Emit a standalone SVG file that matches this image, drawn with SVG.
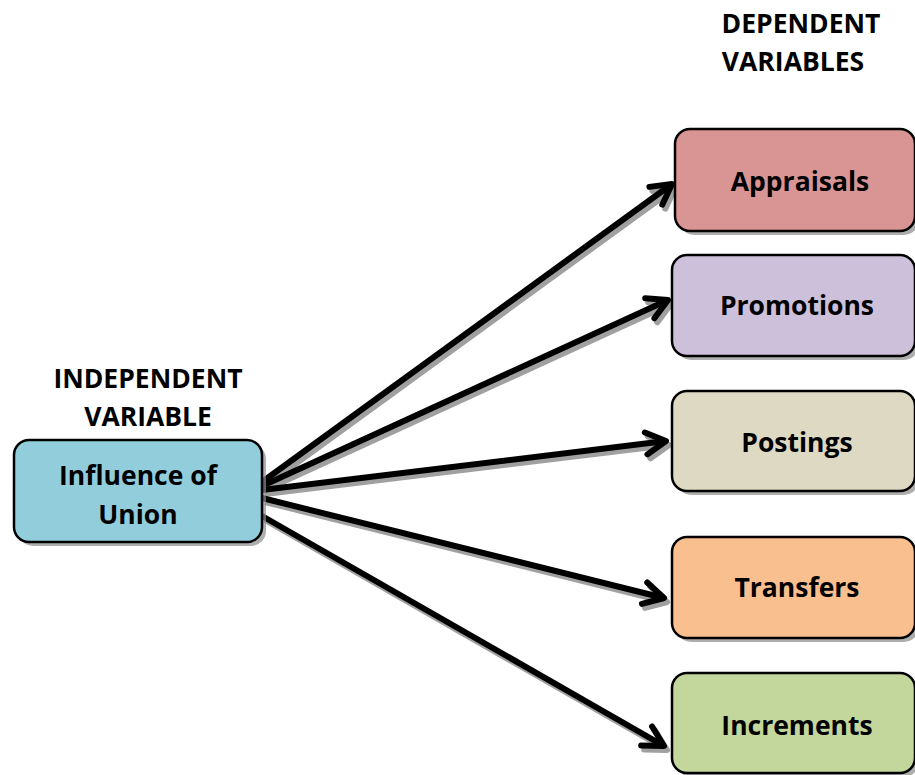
<svg xmlns="http://www.w3.org/2000/svg" width="915" height="775" viewBox="0 0 915 775">
<defs>
<marker id="ah" markerUnits="userSpaceOnUse" orient="auto" refX="0" refY="0" markerWidth="40" markerHeight="40" overflow="visible">
<path d="M-20,-11 L0,0 L-20,11" fill="none" stroke="#000" stroke-width="6" stroke-linecap="round" stroke-linejoin="round"/>
</marker>
<marker id="ahs" markerUnits="userSpaceOnUse" orient="auto" refX="0" refY="0" markerWidth="40" markerHeight="40" overflow="visible">
<path d="M-20,-11 L0,0 L-20,11" fill="none" stroke="#a0a0a0" stroke-width="6" stroke-linecap="round" stroke-linejoin="round"/>
</marker>
</defs>
<style>
.box{stroke:#000;stroke-width:2.5}
.sh{fill:#8c8c8c;opacity:0.7}
.t{font-family:"Open Sans","Liberation Sans",sans-serif;font-weight:bold;font-size:26.5px;fill:#000;text-anchor:middle}
.h{font-family:"Open Sans","Liberation Sans",sans-serif;font-weight:bold;font-size:26.5px;fill:#000;text-anchor:middle}
.c{stroke:#000;stroke-width:6;fill:none;marker-end:url(#ah)}
.cs{stroke:#a0a0a0;stroke-width:6;fill:none;marker-end:url(#ahs)}
</style>
<rect width="915" height="775" fill="#fff"/>
<g id="labels">
<text class="h" x="801" y="33">DEPENDENT</text>
<text class="h" x="793" y="71">VARIABLES</text>
<text class="h" x="148" y="388">INDEPENDENT</text>
<text class="h" x="148" y="426">VARIABLE</text>
</g>
<g id="connectors">
<g transform="translate(3,4)">
<line class="cs" x1="262" y1="482" x2="672" y2="184"/>
<line class="cs" x1="262" y1="486" x2="668" y2="300"/>
<line class="cs" x1="262" y1="490" x2="666" y2="441"/>
<line class="cs" x1="262" y1="498" x2="664" y2="598"/>
<line class="cs" x1="262" y1="516" x2="664" y2="746"/>
</g>
<line class="c" x1="262" y1="482" x2="672" y2="184"/>
<line class="c" x1="262" y1="486" x2="668" y2="300"/>
<line class="c" x1="262" y1="490" x2="666" y2="441"/>
<line class="c" x1="262" y1="498" x2="664" y2="598"/>
<line class="c" x1="262" y1="516" x2="664" y2="746"/>
</g>
<g id="influence">
<rect class="sh" x="18" y="444" width="248" height="102" rx="15"/>
<rect class="box" x="14" y="440" width="248" height="102" rx="15" fill="#92CDDC"/>
<text class="t" x="138" y="485">Influence of</text>
<text class="t" x="138" y="524">Union</text>
</g>
<g id="appraisals">
<rect class="sh" x="679" y="133" width="240" height="102" rx="15"/>
<rect class="box" x="675" y="129" width="240" height="102" rx="15" fill="#D99594"/>
<text class="t" x="800" y="191">Appraisals</text>
</g>
<g id="promotions">
<rect class="sh" x="676" y="259" width="243" height="101" rx="15"/>
<rect class="box" x="672" y="255" width="243" height="101" rx="15" fill="#CCC0DA"/>
<text class="t" x="797" y="315">Promotions</text>
</g>
<g id="postings">
<rect class="sh" x="676" y="395" width="243" height="100" rx="15"/>
<rect class="box" x="672" y="391" width="243" height="100" rx="15" fill="#DDD9C3"/>
<text class="t" x="797" y="452">Postings</text>
</g>
<g id="transfers">
<rect class="sh" x="676" y="541" width="243" height="101" rx="15"/>
<rect class="box" x="672" y="537" width="243" height="101" rx="15" fill="#FABF8F"/>
<text class="t" x="797" y="597">Transfers</text>
</g>
<g id="increments">
<rect class="sh" x="676" y="677" width="243" height="100" rx="15"/>
<rect class="box" x="672" y="673" width="243" height="100" rx="15" fill="#C3D69B"/>
<text class="t" x="797" y="735">Increments</text>
</g>
</svg>
